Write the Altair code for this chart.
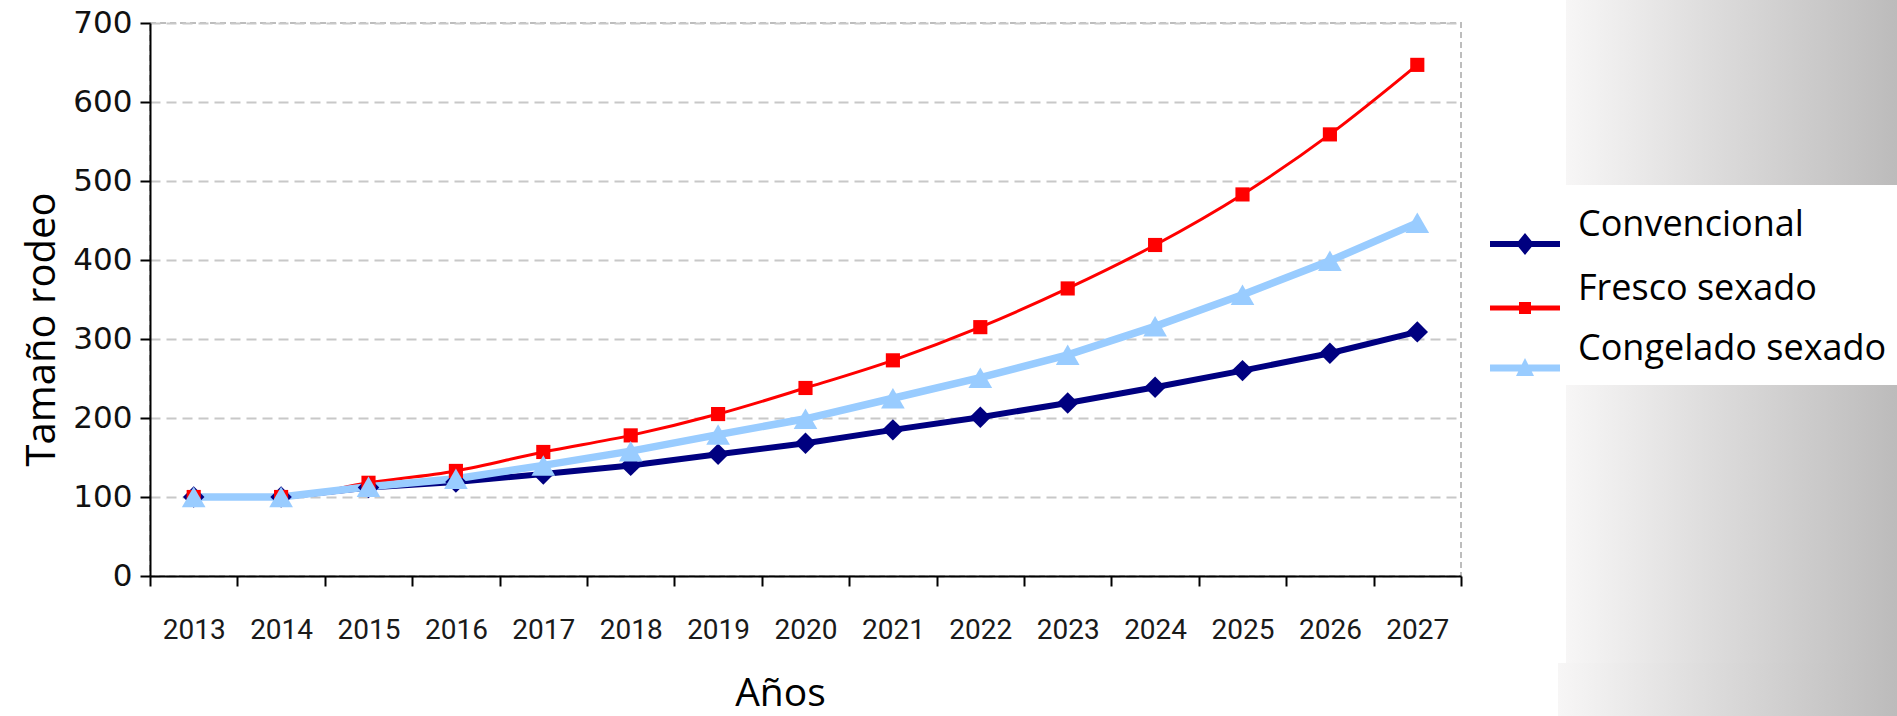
import altair as alt
import pandas as pd

# ---------------- data ----------------
anios = ["2013", "2014", "2015", "2016", "2017", "2018", "2019", "2020",
         "2021", "2022", "2023", "2024", "2025", "2026", "2027"]
series = ["Convencional", "Fresco sexado", "Congelado sexado"]
convencional = [100, 100, 112, 119, 129, 140, 154, 168, 185, 201, 219, 239, 260, 282, 309]
fresco = [100, 100, 118, 133, 157, 178, 205, 238, 273, 315, 364, 419, 483, 559, 647]
congelado = [100, 100, 113, 123, 140, 158, 179, 199, 225, 251, 280, 316, 356, 399, 447]
colores = ["#000080", "#FF0000", "#99CCFF"]
y_ticks = [0, 100, 200, 300, 400, 500, 600, 700]

rows = []
for s, vals in zip(series, [convencional, fresco, congelado]):
    for a, v in zip(anios, vals):
        rows.append({"Año": a, "Serie": s, "Valor": v})
df = pd.DataFrame(rows)

# ---------------- geometry ----------------
W, H = 1311, 553
PAD_L, PAD_T = 150, 23
TOTAL_W, TOTAL_H = 1897, 716

x_enc = alt.X(
    "Año:O",
    bandPosition=0.5,
    scale=alt.Scale(type="band", paddingInner=0, paddingOuter=0, domain=anios),
    axis=alt.Axis(
        tickBand="extent", grid=False, labelAngle=0,
        domainColor="black", domainWidth=2,
        tickColor="black", tickWidth=2, tickSize=10,
        labelFont="Liberation Sans Narrow, Roboto, sans-serif", labelFontSize=28,
        labelColor="#1a1a1a", labelPadding=30, labelBaseline="top",
        titleFont="Open Sans", titleFontSize=39, titleFontWeight="normal",
        titleColor="black", titleX=630, titleY=129, titleAlign="center",
        titleBaseline="alphabetic",
    ),
    title="Años",
)
y_enc = alt.Y(
    "Valor:Q",
    scale=alt.Scale(domain=[0, 700], nice=False, zero=True),
    axis=alt.Axis(
        values=y_ticks, grid=True, gridColor="#c8c8c8", gridWidth=2,
        gridDash=[10, 6],
        domainColor="black", domainWidth=2,
        tickColor="black", tickWidth=2, tickSize=10,
        labelFont="DejaVu Sans", labelFontSize=31, labelColor="#111111",
        labelPadding=8,
        titleFont="Open Sans", titleFontSize=40, titleFontWeight="normal",
        titleColor="black", titleX=-96, titleY=306, titleAlign="center",
        titleBaseline="alphabetic", titleAngle=270,
    ),
    title="Tamaño rodeo",
)

# ---------------- legend symbol paths (line + marker) ----------------
R = 15.0  # sqrt(symbolSize)/2
DY = 19.0  # symbol drawn a bit lower than the label


def u(px):
    return round(px / R, 3)


def bar(half_len, half_th):
    return (f"M{u(-half_len)},{u(DY - half_th)}H{u(half_len)}"
            f"V{u(DY + half_th)}H{u(-half_len)}Z")


path_conv = bar(35, 3) + (f" M0,{u(DY - 11)}L{u(9)},{u(DY)}L0,{u(DY + 11)}"
                          f"L{u(-9)},{u(DY)}Z")
path_fres = bar(35, 2.5) + (f" M{u(-6)},{u(DY - 6)}H{u(6)}V{u(DY + 6)}"
                            f"H{u(-6)}Z")
path_cong = bar(35, 3.5) + (f" M0,{u(DY - 10)}L{u(9)},{u(DY + 8)}"
                            f"L{u(-9)},{u(DY + 8)}Z")
paths = [path_conv, path_fres, path_cong]

legend = alt.Legend(
    orient="none", legendX=1357, legendY=184, title=None,
    symbolSize=900, symbolOpacity=1, symbolStrokeWidth=0,
    labelFont="Open Sans", labelFontSize=36, labelColor="black",
    labelOffset=35, rowPadding=16, padding=0, labelLimit=400,
)

base = alt.Chart(df)

# ---------------- slide background (gray gradient on the right) ----------------
grad = alt.LinearGradient(
    gradient="linear", x1=0, x2=1, y1=0, y2=0,
    stops=[alt.GradientStop(color="#f7f6f6", offset=0),
           alt.GradientStop(color="#bcbbbb", offset=1)],
)
one = pd.DataFrame({"k": [0]})
bg_top = alt.Chart(one).mark_rect(color=grad).encode(
    x=alt.value(1566 - PAD_L), x2=alt.value(TOTAL_W - PAD_L),
    y=alt.value(0 - PAD_T), y2=alt.value(185 - PAD_T))
bg_bot = alt.Chart(one).mark_rect(color=grad).encode(
    x=alt.value(1566 - PAD_L), x2=alt.value(TOTAL_W - PAD_L),
    y=alt.value(385 - PAD_T), y2=alt.value(663 - PAD_T))
bg_bot2 = alt.Chart(one).mark_rect(color=grad).encode(
    x=alt.value(1558 - PAD_L), x2=alt.value(TOTAL_W - PAD_L),
    y=alt.value(663 - PAD_T), y2=alt.value(TOTAL_H - PAD_T))

# ---------------- series ----------------
line_style = {
    "Convencional": dict(strokeWidth=6),
    "Fresco sexado": dict(strokeWidth=3, interpolate="monotone"),
    "Congelado sexado": dict(strokeWidth=7.5),
}
point_style = {
    "Convencional": dict(shape="diamond", size=460),
    "Fresco sexado": dict(shape="square", size=200),
    "Congelado sexado": dict(shape="triangle-up", size=560),
}

lines = []
points = []
for s, c in zip(series, colores):
    lines.append(
        base.transform_filter(alt.datum.Serie == s)
        .mark_line(color=c, **line_style[s])
        .encode(x=x_enc, y=y_enc)
    )
    points.append(
        base.transform_filter(alt.datum.Serie == s)
        .mark_point(color=c, filled=True, opacity=1, **point_style[s])
        .encode(x=x_enc, y=y_enc)
    )

legend_layer = base.mark_point(opacity=0, filled=True).encode(
    x=x_enc, y=y_enc,
    color=alt.Color("Serie:N", scale=alt.Scale(domain=series, range=colores),
                    legend=legend),
    shape=alt.Shape("Serie:N", scale=alt.Scale(domain=series, range=paths),
                    legend=legend),
)

chart = alt.layer(
    bg_top, bg_bot, bg_bot2, *lines, *points, legend_layer
).properties(
    width=W, height=H,
    autosize=alt.AutoSizeParams(type="none"),
    padding={"left": PAD_L, "top": PAD_T,
             "right": TOTAL_W - PAD_L - W, "bottom": TOTAL_H - PAD_T - H},
    background="white",
).configure_view(
    stroke="#bdbdbd", strokeDash=[6, 4], strokeWidth=2,
)

chart.save("out.html", embed_options={"renderer": "svg", "actions": False})
